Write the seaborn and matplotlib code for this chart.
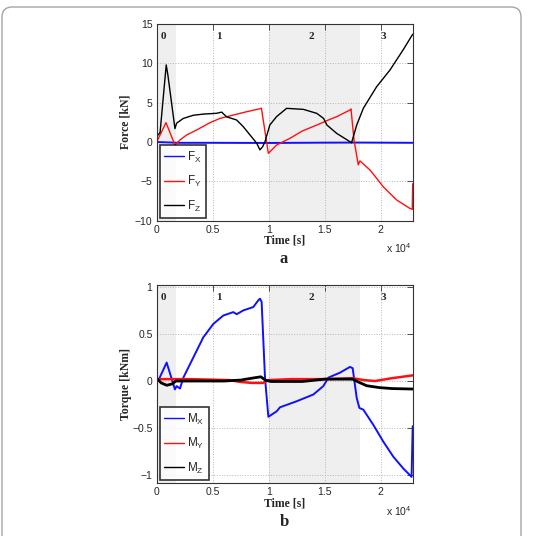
import matplotlib
matplotlib.use('Agg')
import matplotlib.pyplot as plt
from matplotlib.patches import FancyBboxPatch
from matplotlib.ticker import FuncFormatter
import numpy as np
import pandas as pd
import seaborn as sns

# force data (time in s, force in kN)
fx_t = [0, 2000, 5000, 10000, 15000, 18000, 22860]
fx_v = [0.0, -0.1, -0.1, -0.12, -0.08, -0.07, -0.1]

fy_t = [0, 830, 1630, 2080, 2680, 3570, 4760, 5650, 6840, 8030, 9220, 9350, 9970, 10710,
        11900, 13000, 14300, 15500, 16070, 17260, 17350, 17620, 18000, 18150, 19050,
        20240, 21430, 22600, 22820, 22860]
fy_v = [0.0, 2.46, -0.38, 0.26, 0.9, 1.53, 2.46, 3.0, 3.43, 3.85, 4.23, 4.3, -1.44, -0.38,
        0.47, 1.4, 2.16, 2.9, 3.22, 4.07, 4.2, 0.25, -2.9, -2.4, -3.56,
        -5.7, -7.37, -8.43, -8.56, -5.3]

fz_t = [0, 300, 850, 1000, 1630, 1780, 2380, 3270, 4160, 5350, 5800, 6250, 7140, 7730,
        8330, 8930, 9220, 9460, 9670, 10100, 10700, 11600, 13100, 14300, 14900, 15200,
        16070, 17260, 17400, 17860, 18450, 19640, 20830, 22000, 22860]
fz_v = [0.7, 1.2, 9.8, 8.5, 1.7, 2.4, 3.0, 3.4, 3.55, 3.65, 3.8, 3.2, 2.8, 1.95,
        0.9, -0.15, -1.0, -0.6, 0.04, 2.16, 3.22, 4.28, 4.15, 3.64, 3.0, 2.16,
        1.1, 0.04, -0.1, 2.16, 4.28, 7.03, 9.15, 11.7, 13.7]

# torque data (kNm)
mx_t = [0, 150, 890, 1630, 1780, 2080, 2380, 3270, 4160, 5060, 5950, 6840, 7140, 7730,
        8630, 9070, 9220, 9370, 9670, 9970, 10710, 11010, 12500, 13990, 14880, 15330,
        16370, 17260, 17500, 17860, 18100, 18450, 19340, 20230, 21130, 22020, 22760, 22860]
mx_v = [0.0, 0.007, 0.196, -0.089, -0.054, -0.08, 0.036, 0.25, 0.464, 0.607, 0.696, 0.732, 0.71, 0.75,
        0.786, 0.857, 0.875, 0.84, 0.036, -0.38, -0.322, -0.279, -0.215, -0.143, -0.054, 0.036,
        0.089, 0.15, 0.136, -0.18, -0.286, -0.304, -0.465, -0.643, -0.804, -0.929, -1.018, -0.48]

my_t = [0, 3000, 6500, 7500, 8500, 9500, 10000, 12000, 15000, 17500, 18500, 19500, 21000, 22860]
my_v = [0.02, 0.02, 0.01, -0.01, -0.02, -0.02, 0.01, 0.02, 0.02, 0.03, 0.01, 0.0, 0.03, 0.06]

mz_t = [0, 400, 900, 1400, 1700, 3000, 6000, 7500, 8500, 9300, 9700, 10200, 13000, 15000,
        17500, 18000, 18750, 19900, 21000, 22860]
mz_v = [0.03, -0.02, -0.045, -0.03, 0.0, 0.0, 0.0, 0.01, 0.03, 0.045, 0.01, -0.005, -0.005, 0.02,
        0.02, -0.01, -0.05, -0.07, -0.08, -0.085]

phase_labels = ['0', '1', '2', '3']
phase_x = [590, 5590, 13840, 20230]
shaded = [(0, 1730), (10060, 18150)]
x_ticks = [0, 5000, 10000, 15000, 20000]
x_max = 22860

sns.set_style('white')
plt.rcParams['font.family'] = ['Liberation Sans', 'DejaVu Sans']
plt.rcParams['mathtext.default'] = 'regular'

W, H = 533, 536
fig = plt.figure(figsize=(W / 100, H / 100), dpi=100)

# rounded frame around the panel
frame = FancyBboxPatch((0.02, -0.3), 5.19, 5.59, boxstyle='round,pad=0,rounding_size=0.1',
                       transform=fig.dpi_scale_trans, fill=False, edgecolor='#a5a5a5', lw=1.0)
fig.patches.append(frame)

def fx(px):
    return px / W

def fy(py):
    return 1 - py / H

serif = ['Liberation Serif', 'DejaVu Serif']

def style_axes(ax, ylim, yticks, ylabels):
    for a, b in shaded:
        ax.axvspan(a, b, color='#efefef', lw=0, zorder=0)
    ax.set_xlim(0, x_max)
    ax.set_ylim(*ylim)
    ax.set_xticks(x_ticks)
    ax.xaxis.set_major_formatter(FuncFormatter(lambda v, p: f'{v / 1e4:g}'))
    ax.set_yticks(yticks)
    ax.set_yticklabels(ylabels)
    ax.grid(True, ls=':', color='#b5b5b5', lw=0.7)
    ax.set_axisbelow(True)
    ax.tick_params(direction='in', top=True, right=True, length=4, width=0.6,
                   labelsize=7.5, pad=3, color='#333333')
    for s in ax.spines.values():
        s.set_color('#333333')
        s.set_linewidth(0.8)
    ax.set_xlabel('')
    ax.set_ylabel('')
    for lab, xp in zip(phase_labels, phase_x):
        ax.text(xp, 0.935, lab, transform=ax.get_xaxis_transform(), ha='center', va='center',
                fontsize=8, fontweight='bold', family=serif)

def add_legend(ax):
    leg = ax.legend(loc='lower left', fontsize=8.5, frameon=True, fancybox=False,
                    handlelength=1.7, handletextpad=0.3, labelspacing=0.8, borderpad=0.35,
                    borderaxespad=0.25)
    leg.get_frame().set_edgecolor('black')
    leg.get_frame().set_linewidth(1.2)
    for line in leg.get_lines():
        line.set_linewidth(1.0)

# top panel: forces
ax1 = fig.add_axes([fx(156.7), fy(220.7), fx(412.7) - fx(156.7), fy(24) - fy(220.7)])
sns.lineplot(x=fx_t, y=fx_v, color='#1010ff', lw=1.4, sort=False, estimator=None, ax=ax1, label='F$_X$')
sns.lineplot(x=fy_t, y=fy_v, color='#ff1010', lw=1.0, sort=False, estimator=None, ax=ax1, label='F$_Y$')
sns.lineplot(x=fz_t, y=fz_v, color='black', lw=1.0, sort=False, estimator=None, ax=ax1, label='F$_Z$')
style_axes(ax1, (-10, 15), [-10, -5, 0, 5, 10, 15], ['\u221210', '\u22125', '0', '5', '10', '15'])
add_legend(ax1)

# bottom panel: torques
ax2 = fig.add_axes([fx(156.7), fy(482.7), fx(412.7) - fx(156.7), fy(285) - fy(482.7)])
sns.lineplot(x=mx_t, y=mx_v, color='#1010ff', lw=1.4, sort=False, estimator=None, ax=ax2, label='M$_X$')
sns.lineplot(x=my_t, y=my_v, color='#ff1010', lw=1.8, sort=False, estimator=None, ax=ax2, label='M$_Y$')
sns.lineplot(x=mz_t, y=mz_v, color='black', lw=2.0, sort=False, estimator=None, ax=ax2, label='M$_Z$')
style_axes(ax2, (-1.08, 1.02), [-1, -0.5, 0, 0.5, 1], ['\u22121', '\u22120.5', '0', '0.5', '1'])
add_legend(ax2)

# axis titles and panel letters
for yl, ycen, tl, xoff, letter in [('Force [kN]', 122, 240.7, 248, ('a', 259)),
                                   ('Torque [kNm]', 384, 504, 511, ('b', 522))]:
    fig.text(fx(126), fy(ycen), yl, rotation=90, ha='center', va='center',
             fontsize=8.5, fontweight='bold', family=serif)
    fig.text(fx(284.7), fy(tl), 'Time [s]', ha='center', va='center',
             fontsize=8.5, fontweight='bold', family=serif)
    fig.text(fx(386), fy(xoff), 'x 10$^4$', ha='left', va='center', fontsize=7.5)
    fig.text(fx(284), fy(letter[1]), letter[0], ha='center', va='center',
             fontsize=12, fontweight='bold', family=serif)

fig.savefig('out.png', dpi=100)
